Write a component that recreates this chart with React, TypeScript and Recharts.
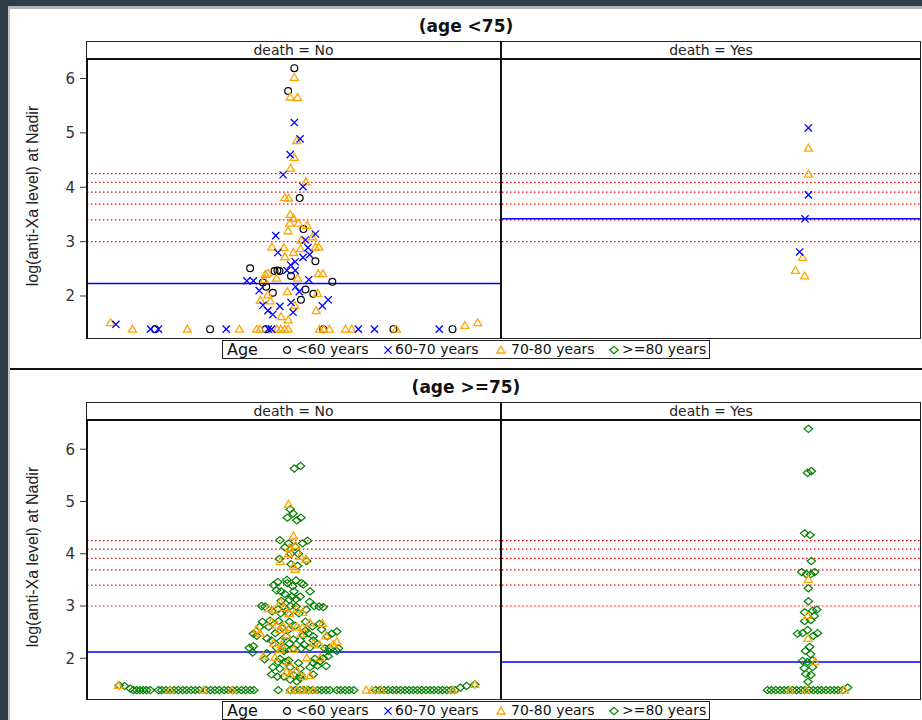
import React from 'react';
import { ScatterChart, Scatter, XAxis, YAxis, ReferenceLine } from 'recharts';

type Pt = [number, number];

// x = position across the facet (0-100), y = log(anti-Xa level) at Nadir

// ---- age < 75, death = No
const youngNoCircle: Pt[] = [
  [50.2, 6.19], [48.7, 5.77], [51.5, 3.8], [52.4, 3.23], [55.3, 2.64], [39.5, 2.51], [45.4, 2.46],
  [46.1, 2.47], [46.6, 2.46], [49.4, 2.37], [42.6, 2.25], [59.4, 2.26], [43.4, 2.17], [52.9, 2.12],
  [45.0, 2.06], [54.8, 2.04], [51.8, 1.93], [16.5, 1.39], [29.8, 1.39], [43.3, 1.39], [57.2, 1.39],
  [74.2, 1.39], [88.5, 1.39],
];
const youngNoCross: Pt[] = [
  [50.2, 5.19], [51.6, 4.89], [49.2, 4.6], [47.5, 4.23], [52.3, 4.01], [45.7, 3.11], [55.3, 3.14],
  [52.9, 3.03], [53.5, 2.89], [46.2, 2.8], [53.9, 2.76], [52.3, 2.71], [50.4, 2.63], [49.3, 2.57],
  [48.4, 2.47], [50.4, 2.47], [38.7, 2.28], [40.3, 2.28], [53.7, 2.3], [50.5, 2.17], [41.7, 2.1],
  [51.4, 2.08], [58.4, 1.93], [57.0, 1.82], [42.6, 1.83], [46.7, 1.81], [49.4, 1.88], [43.8, 1.73],
  [45.0, 1.66], [49.9, 1.7], [7.0, 1.48], [15.4, 1.39], [17.3, 1.39], [33.7, 1.39], [43.9, 1.39],
  [44.7, 1.39], [65.7, 1.39], [69.6, 1.39], [85.3, 1.39],
];
const youngNoTri: Pt[] = [
  [50.2, 6.02], [49.2, 5.66], [51.0, 5.65], [50.8, 4.86], [50.2, 4.55], [49.3, 4.35], [53.0, 4.1],
  [47.9, 3.81], [48.8, 3.8], [49.2, 3.5], [50.0, 3.43], [49.1, 3.34], [51.2, 3.34], [53.3, 3.3],
  [48.7, 3.2], [51.9, 3.03], [54.6, 3.09], [44.8, 2.9], [47.7, 2.89], [55.3, 2.9], [56.1, 2.9],
  [51.7, 2.87], [50.0, 2.8], [47.9, 2.72], [43.2, 2.4], [43.8, 2.42], [56.0, 2.41], [57.1, 2.41],
  [45.9, 2.33], [51.0, 2.33], [42.9, 2.3], [48.5, 2.08], [55.8, 2.05], [43.8, 2.02], [42.0, 1.92],
  [44.4, 1.91], [50.3, 1.83], [55.5, 1.73], [47.0, 1.62], [48.7, 1.56], [5.7, 1.51], [91.5, 1.46],
  [94.6, 1.51], [11.0, 1.39], [24.3, 1.39], [36.9, 1.39], [41.1, 1.39], [41.9, 1.39], [46.0, 1.39],
  [46.9, 1.39], [47.9, 1.39], [48.7, 1.39], [56.3, 1.39], [57.3, 1.39], [58.7, 1.39], [62.6, 1.39],
  [64.1, 1.39], [74.9, 1.39],
];

// ---- age < 75, death = Yes
const youngYesCross: Pt[] = [[73.3, 5.09], [73.3, 3.86], [72.5, 3.42], [71.2, 2.81]];
const youngYesTri: Pt[] = [[73.3, 4.72], [73.3, 4.24], [71.9, 2.71], [70.2, 2.47], [72.4, 2.37]];

// ---- age >= 75, death = No
const oldNoDiamond: Pt[] = [
  [50.2, 5.63], [51.7, 5.68], [49.2, 4.85], [49.9, 4.77], [48.5, 4.69], [50.8, 4.64], [51.8, 4.69],
  [46.7, 4.26], [53.4, 4.25], [52.2, 4.2], [48.8, 4.2], [50.4, 4.13], [47.9, 4.12], [49.3, 4.0],
  [51.2, 4.0], [46.6, 3.9], [53.2, 3.86], [49.4, 3.8], [51.0, 3.77], [48.5, 3.44], [51.9, 3.44],
  [52.4, 3.41], [45.2, 3.4], [46.2, 3.46], [48.4, 3.5], [50.6, 3.49], [49.8, 3.38], [45.9, 3.3],
  [47.0, 3.28], [50.1, 3.28], [54.0, 3.28], [47.9, 3.23], [49.6, 3.18], [51.6, 3.18], [49.0, 3.12],
  [50.6, 3.13], [53.9, 3.08], [47.0, 3.1], [42.3, 3.0], [43.1, 2.99], [46.3, 2.94], [47.5, 2.99],
  [49.3, 3.0], [50.6, 2.99], [56.2, 2.99], [57.2, 2.98], [55.0, 3.0], [44.8, 2.9], [53.1, 2.93],
  [46.9, 2.86], [48.7, 2.86], [51.3, 2.86], [44.3, 2.72], [46.4, 2.71], [49.0, 2.7], [52.9, 2.7],
  [42.5, 2.7], [56.3, 2.66], [54.6, 2.61], [41.8, 2.6], [44.0, 2.6], [47.2, 2.58], [50.4, 2.62],
  [48.8, 2.55], [52.9, 2.53], [56.8, 2.55], [53.6, 2.48], [45.6, 2.48], [40.3, 2.47], [41.1, 2.43],
  [52.4, 2.44], [54.8, 2.42], [58.2, 2.42], [59.3, 2.47], [60.5, 2.51], [48.2, 2.42], [43.6, 2.38],
  [44.7, 2.34], [46.9, 2.33], [50.0, 2.36], [51.6, 2.34], [54.8, 2.34], [49.0, 2.28], [52.6, 2.26],
  [55.8, 2.27], [39.3, 2.2], [40.3, 2.23], [45.9, 2.2], [47.9, 2.21], [50.0, 2.19], [51.9, 2.19],
  [53.9, 2.2], [57.6, 2.19], [58.7, 2.2], [60.9, 2.19], [40.1, 2.11], [43.5, 2.1], [47.7, 2.14],
  [58.4, 2.14], [60.5, 2.14], [43.0, 1.98], [46.7, 1.99], [48.8, 1.96], [55.2, 1.99], [57.2, 2.0],
  [58.4, 2.04], [46.3, 1.93], [48.1, 1.93], [51.2, 1.91], [54.8, 1.91], [56.4, 1.94], [45.0, 1.83],
  [46.7, 1.8], [49.2, 1.83], [51.6, 1.8], [54.0, 1.83], [55.8, 1.86], [57.9, 1.85], [44.7, 1.69],
  [46.1, 1.65], [47.7, 1.65], [50.0, 1.68], [51.8, 1.68], [54.8, 1.69], [49.2, 1.59], [50.8, 1.56],
  [51.6, 1.62], [7.8, 1.48], [9.1, 1.47], [10.5, 1.42], [90.4, 1.44], [91.9, 1.47], [93.9, 1.5],
  [11.2, 1.39], [12.0, 1.39], [12.8, 1.39], [13.6, 1.39], [14.4, 1.39], [15.3, 1.39], [17.3, 1.39],
  [18.1, 1.39], [19.1, 1.39], [20.1, 1.39], [21.1, 1.39], [22.1, 1.39], [23.2, 1.39], [24.1, 1.39],
  [25.2, 1.39], [26.2, 1.39], [27.2, 1.39], [28.8, 1.39], [29.9, 1.39], [31.0, 1.39], [32.0, 1.39],
  [33.2, 1.39], [34.2, 1.39], [35.3, 1.39], [36.2, 1.39], [37.4, 1.39], [38.4, 1.39], [39.5, 1.39],
  [40.4, 1.39], [46.3, 1.39], [49.3, 1.39], [50.4, 1.39], [51.6, 1.39], [52.5, 1.39], [53.6, 1.39],
  [54.6, 1.39], [55.8, 1.39], [56.8, 1.39], [57.9, 1.39], [58.8, 1.39], [60.5, 1.39], [61.4, 1.39],
  [62.5, 1.39], [63.5, 1.39], [64.6, 1.39], [69.9, 1.39], [70.9, 1.39], [71.9, 1.39], [72.9, 1.39],
  [74.0, 1.39], [74.9, 1.39], [75.9, 1.39], [77.0, 1.39], [78.0, 1.39], [79.0, 1.39], [80.0, 1.39],
  [81.0, 1.39], [82.1, 1.39], [83.1, 1.39], [84.0, 1.39], [85.1, 1.39], [86.1, 1.39], [87.1, 1.39],
  [88.1, 1.39], [89.1, 1.39],
];
const oldNoTri: Pt[] = [
  [48.8, 4.95], [50.0, 4.34], [49.0, 4.11], [50.5, 4.16], [46.8, 3.85], [48.8, 4.0], [51.6, 3.95],
  [53.0, 3.9], [50.0, 3.76], [50.4, 3.7], [44.0, 2.95], [45.2, 2.92], [46.8, 3.07], [47.7, 2.97],
  [49.0, 2.86], [50.8, 2.94], [52.2, 2.88], [44.7, 2.69], [45.9, 2.64], [47.5, 2.61], [49.1, 2.59],
  [50.8, 2.6], [52.2, 2.59], [54.0, 2.68], [57.0, 2.67], [57.9, 2.43], [60.5, 2.32], [46.7, 2.55],
  [48.3, 2.45], [41.9, 2.48], [41.1, 2.55], [51.8, 2.46], [54.8, 2.29], [56.3, 2.26], [59.6, 2.27],
  [45.2, 2.29], [47.1, 2.26], [50.0, 2.17], [42.7, 2.04], [45.5, 2.02], [48.8, 1.93], [48.3, 1.74],
  [50.8, 1.77], [52.4, 1.65], [54.0, 1.67], [49.2, 1.69], [46.8, 2.17], [53.2, 2.01], [56.5, 2.01],
  [7.6, 1.48], [20.1, 1.39], [28.2, 1.39], [35.1, 1.39], [49.2, 1.39], [50.8, 1.39], [52.2, 1.39],
  [53.2, 1.39], [54.8, 1.39], [67.6, 1.39], [69.0, 1.39], [71.3, 1.39], [88.6, 1.39], [93.9, 1.5],
];

// ---- age >= 75, death = Yes
const oldYesDiamond: Pt[] = [
  [73.3, 6.39], [73.1, 5.55], [74.0, 5.58], [72.4, 4.39], [73.7, 4.36], [74.0, 3.86], [71.7, 3.65],
  [72.8, 3.61], [73.9, 3.61], [74.8, 3.65], [73.3, 3.34], [73.3, 3.09], [72.4, 2.88], [74.3, 2.91],
  [75.3, 2.93], [74.7, 2.81], [72.4, 2.71], [73.9, 2.73], [73.1, 2.54], [70.7, 2.47], [71.9, 2.48],
  [75.5, 2.48], [74.5, 2.43], [73.6, 2.22], [72.6, 2.14], [73.8, 2.08], [71.9, 1.95], [73.1, 1.93],
  [74.3, 1.96], [72.3, 1.81], [74.3, 1.83], [72.7, 1.7], [73.9, 1.68], [73.2, 1.55], [82.7, 1.44],
  [63.5, 1.39], [64.4, 1.39], [65.5, 1.39], [66.5, 1.39], [67.5, 1.39], [68.4, 1.39], [69.5, 1.39],
  [70.5, 1.39], [71.5, 1.39], [72.4, 1.39], [73.5, 1.39], [74.5, 1.39], [75.5, 1.39], [76.4, 1.39],
  [77.5, 1.39], [78.5, 1.39], [79.5, 1.39], [80.4, 1.39], [81.5, 1.39],
];
const oldYesTri: Pt[] = [
  [73.3, 3.51], [73.1, 2.82], [73.2, 2.38], [74.9, 1.93], [68.9, 1.39], [72.7, 1.39], [81.9, 1.39],
];

// reference levels (log scale) and group means
const thresholds = [3.0, 3.4, 3.69, 3.91, 4.09, 4.25];
const yTicks = [2, 3, 4, 5, 6];
const youngDomain = [1.246, 6.34];
const oldDomain = [1.24, 6.54];
const youngNoMean = 2.23;
const youngYesMean = 3.42;
const oldNoMean = 2.12;
const oldYesMean = 1.93;

const legendItems = ['<60 years', '60-70 years', '70-80 years', '>=80 years'];

const FONT = '"DejaVu Sans", Arial, sans-serif';
const PLOT_H = 277;

const toRows = (pts: Pt[]) => pts.map(([x, y]) => ({ x, y }));

const CircleMark = (p: any) => (
  <circle cx={p.cx} cy={p.cy} r={3.4} fill="none" stroke="#000" strokeWidth={1.2} />
);
const CrossMark = (p: any) => {
  const { cx, cy } = p;
  const s = 3.6;
  return (
    <path
      d={`M${cx - s},${cy - s}L${cx + s},${cy + s}M${cx - s},${cy + s}L${cx + s},${cy - s}`}
      stroke="#0000ff"
      strokeWidth={1.3}
      fill="none"
    />
  );
};
const TriMark = (p: any) => {
  const { cx, cy } = p;
  return (
    <path
      d={`M${cx},${cy - 3.9}L${cx + 4},${cy + 3}L${cx - 4},${cy + 3}Z`}
      stroke="#ffa500"
      strokeWidth={1.3}
      fill="none"
    />
  );
};
const DiamondMark = (p: any) => {
  const { cx, cy } = p;
  return (
    <path
      d={`M${cx},${cy - 3.6}L${cx + 4.2},${cy}L${cx},${cy + 3.6}L${cx - 4.2},${cy}Z`}
      stroke="#008000"
      strokeWidth={1.2}
      fill="none"
    />
  );
};

interface Group {
  data: Pt[];
  shape: (p: any) => React.ReactElement;
}

function Facet({ groups, domain, mean, axis, width }: { groups: Group[]; domain: number[]; mean: number; axis: boolean; width: number }) {
  return (
    <ScatterChart width={width} height={PLOT_H} margin={{ top: 0, right: 0, bottom: 0, left: 0 }}>
      <XAxis type="number" dataKey="x" domain={[0, 100]} hide allowDataOverflow />
      <YAxis
        type="number"
        dataKey="y"
        domain={domain}
        ticks={yTicks}
        allowDataOverflow
        hide={!axis}
        width={77}
        tickSize={7}
        tickMargin={5}
        axisLine={false}
        tickLine={{ stroke: '#333' }}
        tick={{ fill: '#333', fontSize: 15, fontFamily: FONT }}
      />
      {thresholds.map((t) => (
        <ReferenceLine key={t} y={t} stroke="#ff0000" strokeDasharray="1.5 2.5" strokeWidth={1.2} />
      ))}
      <ReferenceLine y={mean} stroke="#0000ff" strokeWidth={1.4} />
      {groups.map((g, i) => (
        <Scatter key={i} data={toRows(g.data)} shape={g.shape} isAnimationActive={false} />
      ))}
    </ScatterChart>
  );
}

const legendMarks = [
  <circle key="c" cx={6} cy={6} r={3.4} fill="none" stroke="#000" strokeWidth={1.2} />,
  <path key="x" d="M2.4,2.4L9.6,9.6M2.4,9.6L9.6,2.4" stroke="#0000ff" strokeWidth={1.3} fill="none" />,
  <path key="t" d="M6,2.1L10,9L2,9Z" stroke="#ffa500" strokeWidth={1.3} fill="none" />,
  <path key="d" d="M6,2.4L10.2,6L6,9.6L1.8,6Z" stroke="#008000" strokeWidth={1.2} fill="none" />,
];
const legendMarkX = [58, 159, 272, 385];
const legendTextX = [73, 172, 288, 399];

function AgeLegend({ top }: { top: number }) {
  return (
    <div
      style={{
        position: 'absolute', left: 222, top, width: 486, height: 17,
        border: '1.5px solid #222', background: '#fff', fontFamily: FONT, color: '#111',
      }}
    >
      <span style={{ position: 'absolute', left: 4, top: -1, fontSize: 16 }}>Age</span>
      {legendItems.map((label, i) => (
        <React.Fragment key={label}>
          <svg width={12} height={12} style={{ position: 'absolute', left: legendMarkX[i], top: 3 }}>
            {legendMarks[i]}
          </svg>
          <span style={{ position: 'absolute', left: legendTextX[i], top: 0, fontSize: 14, whiteSpace: 'nowrap' }}>
            {label}
          </span>
        </React.Fragment>
      ))}
    </div>
  );
}

function Row({ y0, title, domain, left, right, meanL, meanR }: {
  y0: number; title: string; domain: number[]; left: Group[]; right: Group[]; meanL: number; meanR: number;
}) {
  return (
    <>
      <div style={{ position: 'absolute', left: 10, width: 912, top: y0 + 16, textAlign: 'center', fontFamily: FONT, fontWeight: 'bold', fontSize: 17, color: '#111' }}>
        {title}
      </div>
      <div style={{ position: 'absolute', left: 87, width: 413, top: y0 + 42, height: 17, textAlign: 'center', fontFamily: FONT, fontSize: 14, color: '#222', lineHeight: '17px' }}>
        death = No
      </div>
      <div style={{ position: 'absolute', left: 502, width: 418, top: y0 + 42, height: 17, textAlign: 'center', fontFamily: FONT, fontSize: 14, color: '#222', lineHeight: '17px' }}>
        death = Yes
      </div>
      <div
        style={{
          position: 'absolute', left: 33 - 150, top: y0 + 196 - 10, width: 300, height: 20, lineHeight: '20px',
          transform: 'rotate(-90deg)', transformOrigin: '50% 50%', textAlign: 'center', whiteSpace: 'nowrap',
          fontFamily: '"Liberation Sans", Arial, sans-serif', fontSize: 16, color: '#222',
        }}
      >
        log(anti-Xa level) at Nadir
      </div>
      <div style={{ position: 'absolute', left: 10, top: y0 + 60 }}>
        <Facet groups={left} domain={domain} mean={meanL} axis width={490} />
      </div>
      <div style={{ position: 'absolute', left: 502, top: y0 + 60 }}>
        <Facet groups={right} domain={domain} mean={meanR} axis={false} width={418} />
      </div>
      {/* panel frame */}
      <div style={{ position: 'absolute', left: 86, top: y0 + 41, width: 833, height: 296, border: '1px solid #222', pointerEvents: 'none' }} />
      <div style={{ position: 'absolute', left: 86, top: y0 + 58, width: 835, height: 2, background: '#111', pointerEvents: 'none' }} />
      <div style={{ position: 'absolute', left: 500, top: y0 + 41, width: 2, height: 298, background: '#111', pointerEvents: 'none' }} />
      <div style={{ position: 'absolute', left: 86, top: y0 + 60, width: 2, height: 278, background: '#111', pointerEvents: 'none' }} />
      <AgeLegend top={y0 + 340} />
    </>
  );
}

export default function App() {
  return (
    <div style={{ position: 'absolute', left: 0, top: 0, width: 922, height: 720, background: '#2e3d47', overflow: 'hidden' }}>
      <div style={{ position: 'absolute', left: 8, top: 6, width: 914, height: 714, background: '#fff', borderLeft: '2px solid #c4c4c4', borderTop: '3px solid #b4b4b4', boxSizing: 'border-box' }} />
      <Row
        y0={0}
        title="(age <75)"
        domain={youngDomain}
        left={[
          { data: youngNoCircle, shape: CircleMark },
          { data: youngNoTri, shape: TriMark },
          { data: youngNoCross, shape: CrossMark },
        ]}
        right={[
          { data: youngYesTri, shape: TriMark },
          { data: youngYesCross, shape: CrossMark },
        ]}
        meanL={youngNoMean}
        meanR={youngYesMean}
      />
      <div style={{ position: 'absolute', left: 10, top: 368, width: 912, height: 2, background: '#111' }} />
      <Row
        y0={361}
        title="(age >=75)"
        domain={oldDomain}
        left={[
          { data: oldNoDiamond, shape: DiamondMark },
          { data: oldNoTri, shape: TriMark },
        ]}
        right={[
          { data: oldYesDiamond, shape: DiamondMark },
          { data: oldYesTri, shape: TriMark },
        ]}
        meanL={oldNoMean}
        meanR={oldYesMean}
      />
    </div>
  );
}
